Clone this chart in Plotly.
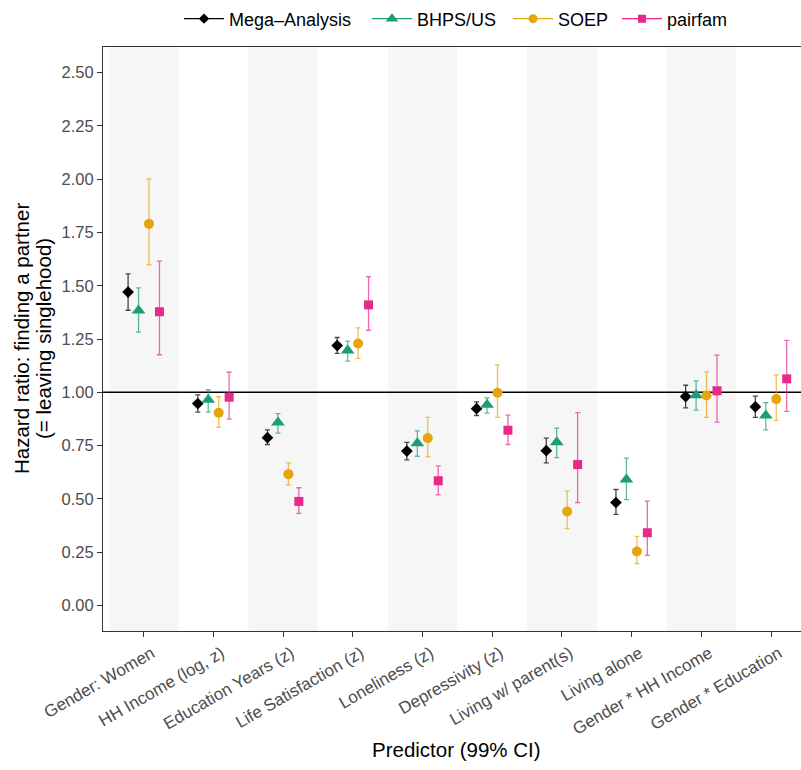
import plotly.graph_objects as go

categories = ["Gender: Women", "HH Income (log, z)", "Education Years (z)",
              "Life Satisfaction (z)", "Loneliness (z)", "Depressivity (z)",
              "Living w/ parent(s)", "Living alone", "Gender * HH Income",
              "Gender * Education"]

series_names = ["Mega–Analysis", "BHPS/US", "SOEP", "pairfam"]

mega_est = [1.470, 0.947, 0.787, 1.219, 0.724, 0.923, 0.726, 0.483, 0.980, 0.932]
mega_lo  = [1.385, 0.907, 0.755, 1.183, 0.683, 0.891, 0.669, 0.427, 0.927, 0.882]
mega_hi  = [1.556, 0.988, 0.824, 1.257, 0.765, 0.955, 0.785, 0.544, 1.033, 0.982]

bhps_est = [1.384, 0.965, 0.858, 1.196, 0.761, 0.941, 0.765, 0.591, 0.986, 0.891]
bhps_lo  = [1.282, 0.907, 0.808, 1.146, 0.700, 0.902, 0.693, 0.496, 0.916, 0.824]
bhps_hi  = [1.490, 1.012, 0.900, 1.240, 0.819, 0.974, 0.832, 0.691, 1.054, 0.951]

soep_est = [1.790, 0.904, 0.616, 1.229, 0.785, 0.998, 0.441, 0.253, 0.985, 0.968]
soep_lo  = [1.599, 0.835, 0.565, 1.159, 0.697, 0.882, 0.361, 0.196, 0.882, 0.868]
soep_hi  = [2.001, 0.979, 0.669, 1.302, 0.882, 1.129, 0.536, 0.324, 1.096, 1.082]

pair_est = [1.378, 0.977, 0.488, 1.410, 0.585, 0.822, 0.661, 0.341, 1.007, 1.063]
pair_lo  = [1.176, 0.874, 0.432, 1.291, 0.519, 0.755, 0.483, 0.235, 0.860, 0.910]
pair_hi  = [1.615, 1.094, 0.552, 1.542, 0.655, 0.893, 0.905, 0.489, 1.174, 1.244]

y_ticks = [0.0, 0.25, 0.5, 0.75, 1.0, 1.25, 1.5, 1.75, 2.0, 2.25, 2.5]
reference_value = 1.0

FONT = "Liberation Sans, Arial, Helvetica, sans-serif"
colors = ["#000000", "#1B9E77", "#E6A50A", "#E7298A"]
err_colors = ["rgba(0,0,0,0.72)", "rgba(27,158,119,0.7)",
              "rgba(230,165,10,0.7)", "rgba(231,41,138,0.7)"]
symbols = ["diamond", "triangle-up", "circle", "square"]
sizes = [9, 12, 10, 9]
dodge = [-0.225, -0.075, 0.075, 0.225]

# legend key left edges (pixels) for each series' separate legend box
legend_key_px = [184, 372, 513, 622]
PLOT_L, PLOT_W = 103, 698

data = [(mega_est, mega_lo, mega_hi), (bhps_est, bhps_lo, bhps_hi),
        (soep_est, soep_lo, soep_hi), (pair_est, pair_lo, pair_hi)]

fig = go.Figure()
idx = list(range(len(categories)))

for k, (est, lo, hi) in enumerate(data):
    xs = [i + dodge[k] for i in idx]
    fig.add_trace(go.Scatter(
        x=xs, y=est, mode="markers", showlegend=False,
        marker=dict(symbol=symbols[k], size=sizes[k], color=colors[k]),
        error_y=dict(type="data", symmetric=False,
                     array=[h - e for h, e in zip(hi, est)],
                     arrayminus=[e - l for e, l in zip(est, lo)],
                     color=err_colors[k], thickness=1.3, width=2.5),
        name=series_names[k]))

legend_ids = ["legend", "legend2", "legend3", "legend4"]
for k in range(4):
    fig.add_trace(go.Scatter(
        x=[None], y=[None], mode="lines+markers", name=series_names[k],
        legend=legend_ids[k],
        line=dict(color=colors[k], width=1.3),
        marker=dict(symbol=symbols[k], size=sizes[k] - 1, color=colors[k])))

shapes = []
for i in idx:
    if i % 2 == 0:
        shapes.append(dict(type="rect", xref="x", yref="paper",
                           x0=i - 0.5, x1=i + 0.5, y0=0, y1=1,
                           fillcolor="#F6F6F6", line=dict(width=0), layer="below"))
shapes.append(dict(type="line", xref="paper", yref="y", x0=0, x1=1,
                   y0=reference_value, y1=reference_value,
                   line=dict(color="#000000", width=1.6), layer="below"))

legend_common = dict(orientation="h", xanchor="left", y=1.048, yanchor="middle",
                     font=dict(size=18, color="#000000", family=FONT),
                     bgcolor="rgba(0,0,0,0)", itemclick=False, itemwidth=40,
                     borderwidth=0)
legend_layouts = {}
for k, lid in enumerate(legend_ids):
    legend_layouts[lid] = dict(legend_common,
                               x=(legend_key_px[k] - 5 - PLOT_L) / PLOT_W)

fig.update_layout(
    width=801, height=770,
    margin=dict(l=PLOT_L, r=0, t=45, b=139),
    paper_bgcolor="white", plot_bgcolor="white",
    font=dict(family=FONT, color="#000000"),
    shapes=shapes,
    showlegend=True,
    xaxis=dict(range=[-0.585, 9.43], tickmode="array", tickvals=idx,
               ticktext=categories, tickangle=-30,
               tickfont=dict(size=17, color="#4D4D4D", family=FONT),
               ticklabelshift=8,
               ticks="outside", ticklen=5, tickcolor="#333333", tickwidth=1,
               showline=True, linecolor="#333333", linewidth=1, mirror=True,
               showgrid=False, zeroline=False),
    yaxis=dict(range=[-0.12, 2.62], tickmode="array", tickvals=y_ticks,
               ticktext=[f"{v:.2f}" for v in y_ticks],
               tickfont=dict(size=16.5, color="#4D4D4D", family=FONT),
               ticks="outside", ticklen=5, tickcolor="#333333", tickwidth=1,
               showline=True, linecolor="#333333", linewidth=1,
               showgrid=False, zeroline=False),
    annotations=[
        dict(text="Predictor (99% CI)", xref="paper", yref="paper",
             x=0.507, y=-0.203, xanchor="center", yanchor="middle",
             showarrow=False, font=dict(size=20.5, color="#000000")),
        dict(text="Hazard ratio: finding a partner", xref="paper", yref="paper",
             x=(21 - PLOT_L) / PLOT_W, y=0.5, xanchor="center", yanchor="middle",
             textangle=-90, showarrow=False, font=dict(size=20.5, color="#000000")),
        dict(text="(= leaving singlehood)", xref="paper", yref="paper",
             x=(43 - PLOT_L) / PLOT_W, y=0.5, xanchor="center", yanchor="middle",
             textangle=-90, showarrow=False, font=dict(size=20.5, color="#000000")),
    ],
    **legend_layouts,
)

fig.write_html("out.html")
